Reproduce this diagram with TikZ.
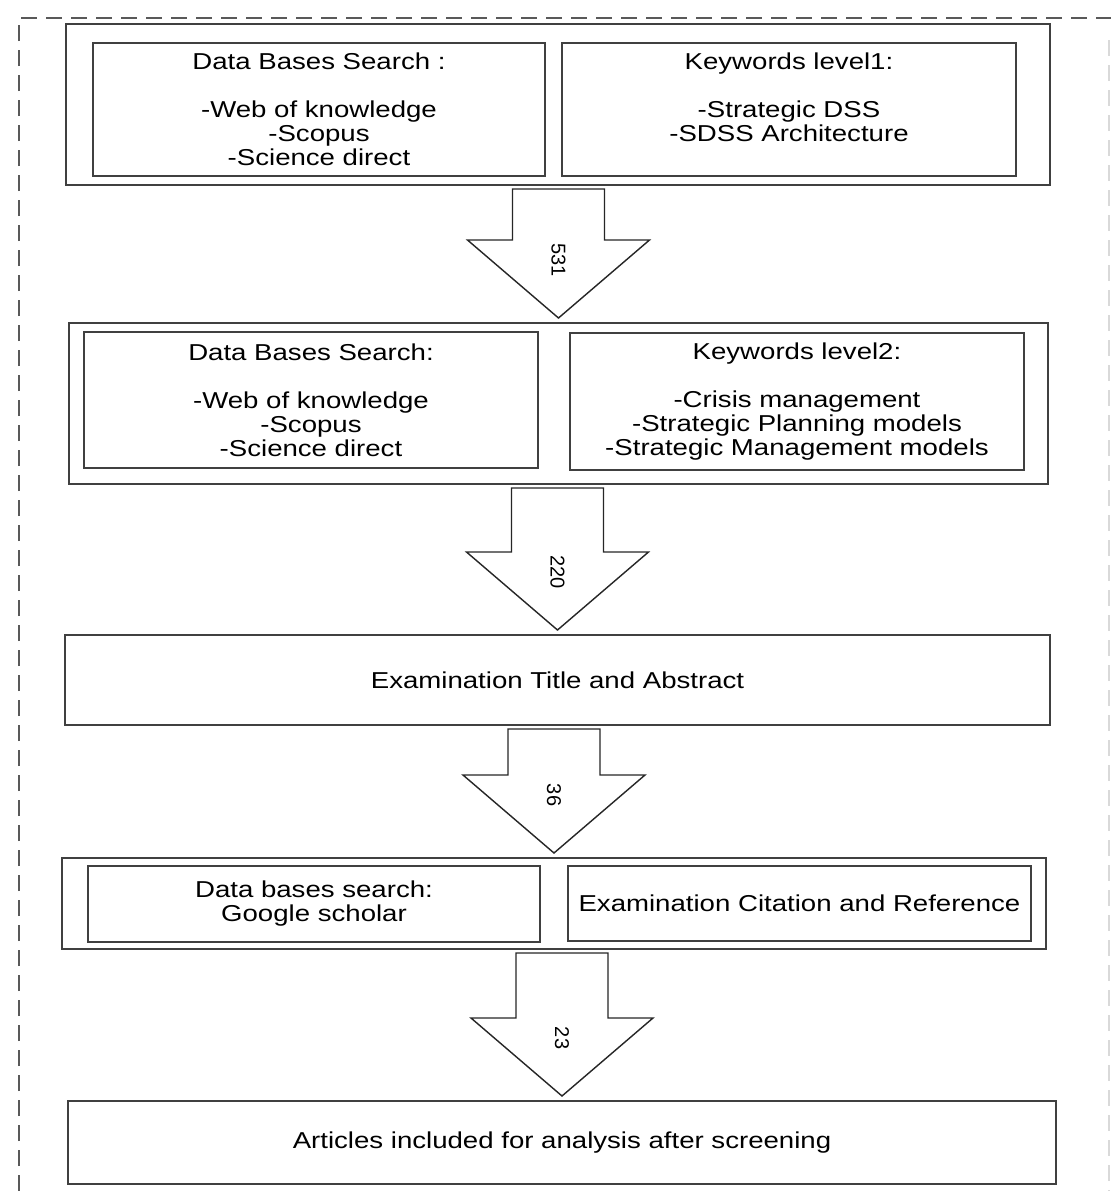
\documentclass[tikz,border=0pt]{standalone}
\usepackage{fontspec}
\setmainfont{Liberation Sans}[FakeStretch=1.2]
\newfontfamily\numfont{Liberation Sans}
\usetikzlibrary{calc}
\newcommand{\countarrow}[3]{%
	\draw[blockarrow] let \p1=(#1.south), \p2=(#2.north) in
		(\x2-23pt,\y1-1.5pt) -- (\x2+23pt,\y1-1.5pt) -- (\x2+23pt,\y2+41pt) -- (\x2+45.5pt,\y2+41pt)
		-- (\x2,\y2+2pt) -- (\x2-45.5pt,\y2+41pt) -- (\x2-23pt,\y2+41pt) -- cycle
		(\x2,\y2+31pt) node[countlabel] (n#3) {#3};
}
\begin{document}
\begin{tikzpicture}[x=0.5pt,y=-0.5pt,line join=miter,
		box/.style={draw=black!75,line width=1pt,inner sep=0pt,align=center,font=\fontsize{11.5}{12}\selectfont},
		blockarrow/.style={draw=black!85,line width=0.7pt,fill=white},
		countlabel/.style={rotate=-90,inner sep=0pt,font=\numfont\fontsize{10}{12}\selectfont},
		frame/.style={draw=black!65,line width=1pt,dash pattern=on 8pt off 4.5pt}]
		\useasboundingbox (0,0) rectangle (1111,1191);
		\draw[frame] (19,1191) -- (19,18) -- (1111,18);
		\draw[frame,draw=black!15] (1109,40) -- (1109,1191);
		\node[box,minimum width=492pt,minimum height=80.5pt] (search1) at (558,104.5) {};
		\node[box,minimum width=226pt,minimum height=66.5pt] (db1) at (319,109.5) {Data Bases Search :\\[12pt]-Web of knowledge\\-Scopus\\-Science direct};
		\node[box,minimum width=227pt,minimum height=66.5pt] (kw1) at (789,109.5) {Keywords level1:\\[12pt]-Strategic DSS\\-SDSS Architecture\\\mbox{}};
		\node[box,minimum width=489.5pt,minimum height=80.5pt] (search2) at (558.5,403.5) {};
		\node[box,minimum width=227pt,minimum height=68pt] (db2) at (311,400) {Data Bases Search:\\[12pt]-Web of knowledge\\-Scopus\\-Science direct};
		\node[box,minimum width=227pt,minimum height=68.5pt] (kw2) at (797,401.5) {Keywords level2:\\[12pt]-Crisis management\\-Strategic Planning models\\-Strategic Management models};
		\node[box,minimum width=492.5pt,minimum height=45pt] (exam) at (557.5,680) {Examination Title and Abstract};
		\node[box,minimum width=492pt,minimum height=45.5pt] (search3) at (554,903.5) {};
		\node[box,minimum width=226pt,minimum height=38pt] (db3) at (314,904) {Data bases search:\\Google scholar};
		\node[box,minimum width=231.5pt,minimum height=37.5pt] (cite) at (799.5,903.5) {Examination Citation and Reference};
		\node[box,minimum width=494pt,minimum height=41.5pt] (final) at (562,1142.5) {Articles included for analysis after screening};
		\countarrow{search1}{search2}{531}
		\countarrow{search2}{exam}{220}
		\countarrow{exam}{search3}{36}
		\countarrow{search3}{final}{23}
	\end{tikzpicture}
\end{document}
